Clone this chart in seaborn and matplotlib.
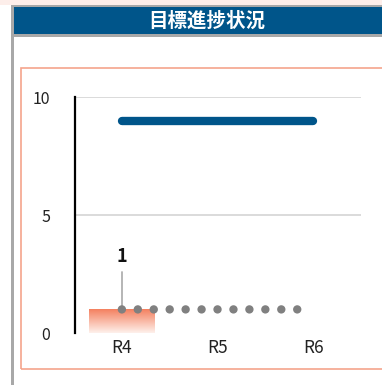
import numpy as np
import pandas as pd
import matplotlib
matplotlib.use("Agg")
import matplotlib.pyplot as plt
from matplotlib.patches import Rectangle
from matplotlib.colors import LinearSegmentedColormap
import seaborn as sns

# ---- data ----
years = ["R4", "R5", "R6"]
actual = [1]                 # achieved value for R4
target = [9, 9, 9]           # goal line R4..R6
monthly = [1, 1, 1, 1, 1, 1, 1, 1, 1, 1, 1, 1]   # monthly progress from R4
yticks = [0, 5, 10]
title = "目標進捗状況"

sns.set_theme(style="white")
plt.rcParams["font.family"] = ["Noto Sans CJK JP", "DejaVu Sans"]

W, H = 382, 385
fig = plt.figure(figsize=(W / 100, H / 100), dpi=100)
fig.patch.set_facecolor("white")

def fx(px):
    return px / W

def fy(py):
    return 1 - py / H

# page decoration: pink strip, grey frame, blue header band
fig.add_artist(Rectangle((0, fy(5)), 1, fy(0) - fy(5), transform=fig.transFigure,
                         facecolor="#fdeeea", edgecolor="none"))
fig.add_artist(Rectangle((fx(11), 0), fx(3), fy(5), transform=fig.transFigure,
                         facecolor="#a8a8a8", edgecolor="none"))
fig.add_artist(Rectangle((fx(11), fy(7)), 1, fy(5) - fy(7), transform=fig.transFigure,
                         facecolor="#a8a8a8", edgecolor="none"))
fig.add_artist(Rectangle((fx(14), fy(34)), 1, fy(7) - fy(34), transform=fig.transFigure,
                         facecolor="#00558a", edgecolor="none"))
fig.add_artist(Rectangle((fx(14), fy(37)), 1, fy(34) - fy(37), transform=fig.transFigure,
                         facecolor="#a8a8a8", edgecolor="none"))
fig.text(fx(207), fy(21), title, color="white", fontsize=14, fontweight="bold",
         ha="center", va="center")
# salmon panel border
fig.add_artist(Rectangle((fx(20.5), fy(369)), 1, fy(67.5) - fy(369), transform=fig.transFigure,
                         facecolor="none", edgecolor="#f5a48c", linewidth=1.2))

ax = fig.add_axes([fx(75), fy(333), fx(361) - fx(75), fy(97) - fy(333)])
ax.set_facecolor("none")

# gridlines
for v in yticks[1:]:
    ax.axhline(v, color="#d4d4d4", linewidth=1.2, zorder=0)

# actual bar with vertical gradient fill
bar_df = pd.DataFrame({"x": [0], "v": actual})
sns.barplot(data=bar_df, x="x", y="v", ax=ax, width=0.68, native_scale=True,
            color="#f4805f", linewidth=0, zorder=2)
cmap = LinearSegmentedColormap.from_list("grad", ["#fef1ec", "#f4805f"])
for p in ax.patches:
    x0, y0 = p.get_x(), p.get_y()
    w, h = p.get_width(), p.get_height()
    p.set_facecolor("none")
    grad = np.linspace(0, 1, 256).reshape(-1, 1)
    im = ax.imshow(grad, extent=[x0, x0 + w, y0, y0 + h], origin="lower",
                   cmap=cmap, aspect="auto", zorder=2)
    im.set_clip_path(p)

# target line
tgt_df = pd.DataFrame({"x": np.arange(len(years)), "v": target})
sns.lineplot(data=tgt_df, x="x", y="v", ax=ax, color="#00558a", linewidth=6,
             solid_capstyle="round", zorder=3)

# monthly dots (6 months per year step)
mon_df = pd.DataFrame({"x": np.arange(len(monthly)) / 6, "v": monthly})
sns.scatterplot(data=mon_df, x="x", y="v", ax=ax, color="#808080", s=36,
                edgecolor="none", zorder=4)

# value label with leader line
ax.plot([0, 0], [actual[0], actual[0] + 1.6], color="#b0b0b0", linewidth=1.3, zorder=3)
ax.text(0, actual[0] + 1.85, f"{actual[0]}", ha="center", va="bottom",
        fontsize=13, fontweight="bold", color="#111111")

ax.set_xlim(-0.49, 2.5)
ax.set_ylim(0, 10)
ax.set_xticks(range(len(years)))
ax.set_xticklabels(years)
ax.set_yticks(yticks)
ax.set_yticklabels([str(v) for v in yticks])
ax.tick_params(axis="x", length=0, pad=4, labelsize=12.5, labelcolor="#222222")
ax.tick_params(axis="y", length=0, pad=18, labelsize=11.5, labelcolor="#222222")
ax.set_xlabel("")
ax.set_ylabel("")
for s in ["top", "right", "bottom"]:
    ax.spines[s].set_visible(False)
ax.spines["left"].set_color("black")
ax.spines["left"].set_linewidth(1.6)
if ax.get_legend():
    ax.get_legend().remove()

fig.savefig("out.png", dpi=100)
